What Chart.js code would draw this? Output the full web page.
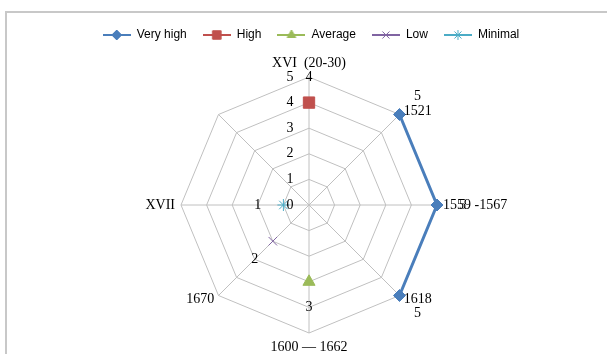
<!DOCTYPE html>
<html>
<head>
<meta charset="utf-8">
<script src="https://cdn.jsdelivr.net/npm/chart.js@4/dist/chart.umd.min.js"></script>
<style>
  html, body { margin: 0; padding: 0; background: #fff; }
  #wrap { position: relative; width: 607px; height: 354px; overflow: hidden; }
  #frame { position: absolute; left: 5px; top: 11px; width: 700px; height: 400px;
           border-left: 2px solid #c8c8c8; border-top: 2px solid #c8c8c8; }
  canvas { position: absolute; left: 0; top: 0; }
</style>
</head>
<body>
<div id="wrap">
  <div id="frame"></div>
  <canvas id="chart" width="607" height="354"></canvas>
</div>
<script>
// Axis categories, clockwise from the top
const LABELS = ['XVI  (20-30)', '1521', '1559 -1567', '1618', '1600 \u2014 1662', '1670', 'XVII', ''];

// Series values (null = not plotted)
const VERY_HIGH = [null, 5, 5, 5, null, null, null, null];
const HIGH      = [4, null, null, null, null, null, null, null];
const AVERAGE   = [null, null, null, null, 3, null, null, null];
const LOW       = [null, null, null, null, null, 2, null, null];
const MINIMAL   = [null, null, null, null, null, null, 1, null];

const SCALE_MIN = 0;
const SCALE_MAX = 5;

// Where the web sits in the picture
const CENTER_X = 309;
const CENTER_Y = 205;
const RADIUS = 128;

const SERIF = '"Liberation Serif", "Times New Roman", serif';
const GRID = '#c0c0c0';

// Build a small legend icon: a line with the marker in the middle
function legendIcon(color, style, radius, lineWidth) {
    const c = document.createElement('canvas');
    c.width = 28;
    c.height = 12;
    const ctx = c.getContext('2d');
    ctx.strokeStyle = color;
    ctx.fillStyle = color;
    ctx.lineWidth = lineWidth;
    ctx.beginPath();
    ctx.moveTo(0, 6);
    ctx.lineTo(28, 6);
    ctx.stroke();
    ctx.lineWidth = 1;
    Chart.helpers.drawPoint(ctx, { pointStyle: style, radius: radius, rotation: 0, borderWidth: 1 }, 14, 6);
    return c;
}

const series = [
    { label: 'Very high', data: VERY_HIGH, color: '#4a7ebb', style: 'rectRot', radius: 6, legendRadius: 5 },
    { label: 'High',      data: HIGH,      color: '#c0504d', style: 'rect',    radius: 8, legendRadius: 6 },
    { label: 'Average',   data: AVERAGE,   color: '#9bbb59', style: 'triangle', radius: 7, legendRadius: 5 },
    { label: 'Low',       data: LOW,       color: '#8064a2', style: 'crossRot', radius: 6, legendRadius: 5 },
    { label: 'Minimal',   data: MINIMAL,   color: '#4bacc6', style: 'star',    radius: 6, legendRadius: 5 }
];

const icons = series.map(s => legendIcon(s.color, s.style, s.legendRadius, 2));

// Axis names around the web, the tick numbers and the value labels
const radarText = {
    id: 'radarText',
    afterDraw(chart) {
        const scale = chart.scales.r;
        const ctx = chart.ctx;
        ctx.save();
        ctx.fillStyle = '#000';
        ctx.font = '14px ' + SERIF;

        // category names
        LABELS.forEach((text, i) => {
            if (!text) return;
            const p = scale.getPointPositionForValue(i, SCALE_MAX);
            const sin = Math.sin(p.angle + Math.PI / 2);
            const cos = Math.cos(p.angle + Math.PI / 2);
            let x = p.x, y = p.y;
            ctx.textBaseline = 'middle';
            if (Math.abs(sin) < 0.1) {
                ctx.textAlign = 'center';
                y -= cos * 14;
            } else {
                ctx.textAlign = sin > 0 ? 'left' : 'right';
                x += sin * 6;
                y -= cos * 5;
            }
            ctx.fillText(text, x, y);
        });

        // tick numbers along the top axis
        ctx.textAlign = 'center';
        ctx.textBaseline = 'middle';
        scale.ticks.forEach(t => {
            const d = scale.getDistanceFromCenterForValue(t.value);
            ctx.fillText(String(t.value), scale.xCenter - 19, scale.yCenter - d);
        });

        // value labels, one unit outside each point
        chart.data.datasets.forEach(ds => {
            ds.data.forEach((v, i) => {
                if (v === null) return;
                const p = scale.getPointPositionForValue(i, v + 1);
                ctx.fillText(String(v), p.x, p.y);
            });
        });
        ctx.restore();
    }
};

new Chart(document.getElementById('chart'), {
    type: 'radar',
    data: {
        labels: LABELS,
        datasets: series.map(s => ({
            label: s.label,
            data: s.data,
            borderColor: s.color,
            backgroundColor: s.color,
            borderWidth: 3,
            fill: false,
            pointStyle: s.style,
            pointRadius: s.radius,
            pointBorderWidth: 1,
            pointBackgroundColor: s.color,
            pointBorderColor: s.color,
            spanGaps: false
        }))
    },
    options: {
        responsive: false,
        animation: false,
        layout: { padding: { top: 13, left: 15 } },
        elements: { line: { tension: 0 } },
        scales: {
            r: {
                min: SCALE_MIN,
                max: SCALE_MAX,
                ticks: { display: false, stepSize: 1 },
                pointLabels: { display: false },
                grid: { color: GRID, lineWidth: 1, circular: false },
                angleLines: { color: GRID, lineWidth: 1 },
                afterFit(scale) {
                    scale.xCenter = CENTER_X;
                    scale.yCenter = CENTER_Y;
                    scale.drawingArea = RADIUS;
                }
            }
        },
        plugins: {
            legend: {
                position: 'top',
                labels: {
                    usePointStyle: true,
                    pointStyleWidth: 28,
                    padding: 16,
                    color: '#000',
                    font: { family: '"Liberation Sans", Arial, sans-serif', size: 12 },
                    generateLabels: chart => chart.data.datasets.map((ds, i) => ({
                        text: ds.label,
                        pointStyle: icons[i],
                        datasetIndex: i,
                        hidden: false,
                        fontColor: '#000',
                        lineWidth: 0,
                        strokeStyle: 'transparent',
                        fillStyle: 'transparent'
                    }))
                }
            },
            tooltip: { enabled: false }
        }
    },
    plugins: [radarText]
});
</script>
</body>
</html>
